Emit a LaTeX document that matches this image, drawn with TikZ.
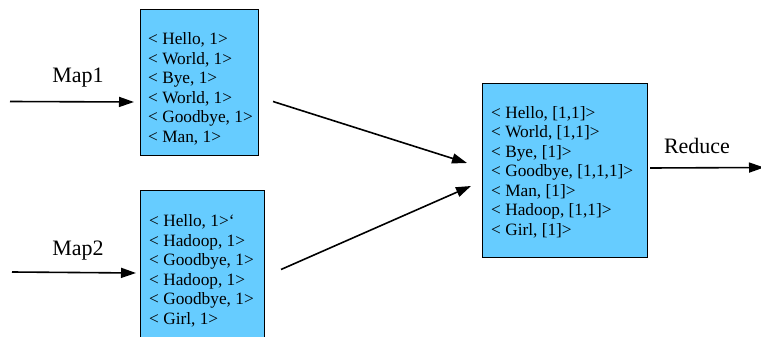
\documentclass[tikz,border=0pt]{standalone}
\usepackage{fontspec}
\setmainfont{Liberation Serif}[Ligatures=ResetAll]
\usetikzlibrary{arrows.meta}
\definecolor{boxblue}{HTML}{66CCFF}
\tikzset{
  databox/.style={draw=black, line width=0.8pt, fill=boxblue, inner sep=0pt},
  boxtext/.style={anchor=north west, align=left, inner sep=0pt, font=\fontsize{17.3}{19.5}\selectfont},
  lbl/.style={font=\fontsize{22}{26}\selectfont, inner sep=0pt},
  flow/.style={line width=1.6pt, -{Triangle[length=15pt,width=10pt]}}
}
\begin{document}
\begin{tikzpicture}[x=1pt,y=-1pt]
\useasboundingbox (0,0) rectangle (761,337);
\clip (0,0) rectangle (761,337);
% boxes
\node[databox, minimum width=118pt, minimum height=146pt] (b1) at (199,82) {};
\node[databox, minimum width=124pt, minimum height=160pt] (b2) at (202,270) {};
\node[databox, minimum width=165pt, minimum height=174pt] (b3) at (564.5,170) {};
% texts
\node[boxtext] (t1) at (148,32.3) {< Hello, 1>\\< World, 1>\\< Bye, 1>\\< World, 1>\\< Goodbye, 1>\\< Man, 1>};
\node[boxtext] (t2) at (149,214.7) {< Hello, 1>`\\< Hadoop, 1>\\< Goodbye, 1>\\< Hadoop, 1>\\< Goodbye, 1>\\< Girl, 1>};
\node[boxtext] (t3) at (491,106) {< Hello, [1,1]>\\< World, [1,1]>\\< Bye, [1]>\\< Goodbye, [1,1,1]>\\< Man, [1]>\\< Hadoop, [1,1]>\\< Girl, [1]>};
% labels
\node[lbl] (m1) at (78,78) {Map1};
\node[lbl] (m2) at (78,251) {Map2};
\node[lbl] (r) at (697,146) {Reduce};
% coordinates
\coordinate (s1) at (10,101.5);
\coordinate (e1) at (134,102);
\coordinate (s2) at (12,272);
\coordinate (e2) at (136,273);
\coordinate (d1) at (273,101.5);
\coordinate (f1) at (467,163);
\coordinate (d2) at (281,269.5);
\coordinate (f2) at (471,186);
\coordinate (rs) at (650,168);
\coordinate (re) at (764,167.5);
% arrows
\draw[flow] (s1) -- (e1);
\draw[flow] (s2) -- (e2);
\draw[flow] (d1) -- (f1);
\draw[flow] (d2) -- (f2);
\draw[flow] (rs) -- (re);
\end{tikzpicture}
\end{document}
